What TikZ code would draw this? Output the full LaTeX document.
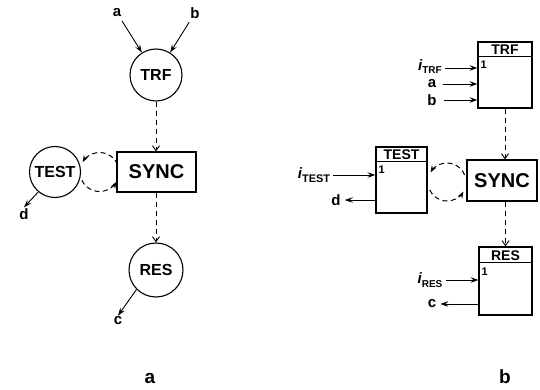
\documentclass[tikz,border=0pt]{standalone}
\usepackage{fontspec}
\setmainfont{Liberation Sans}
\usetikzlibrary{arrows.meta}
\newcommand\myfs[1]{\fontsize{#1}{#1}\selectfont\bfseries}
\begin{document}
\begin{tikzpicture}[x=1pt,y=1pt,
  circ/.style={draw, circle, line width=1.1pt, inner sep=0pt, font=\myfs{16}},
  syncbox/.style={draw, rectangle, line width=1.1pt, inner sep=0pt, font=\myfs{20}},
  procbox/.style={draw, rectangle, line width=1.2pt, inner sep=0pt},
  hdr/.style={inner sep=0pt, font=\myfs{14}},
  onelbl/.style={inner sep=0pt, anchor=north west, font=\myfs{11}},
  lbl/.style={inner sep=1pt, font=\myfs{15}},
  ilbl/.style={inner sep=1pt, font=\myfs{15}},
  caplbl/.style={inner sep=0pt, font=\myfs{19}},
  sol/.style={line width=0.9pt, -{Stealth[length=8pt,width=5.5pt,inset=3pt]}},
  dsh/.style={line width=0.9pt, dash pattern=on 5pt off 4pt, -{Straight Barb[length=5pt,width=7pt]}},
  loopline/.style={line width=1pt, dash pattern=on 5pt off 3.5pt, -{Stealth[length=7pt,width=5pt,inset=2.5pt]}},
]
\useasboundingbox (0,0) rectangle (540,-390);

% ---------------- left diagram (a) ----------------
\node[lbl] (la) at (117,-13) {a};
\node[lbl] (lb) at (195,-13) {b};
\node[circ, minimum size=52pt] (ltrf) at (156,-75) {TRF};
\node[syncbox, minimum width=79pt, minimum height=40pt] (lsync) at (156.5,-172) {SYNC};
\node[circ, minimum size=51pt] (ltest) at (55,-172) {TEST};
\node[circ, minimum size=54pt] (lres) at (156,-270) {RES};
\node[lbl] (ld) at (24,-214) {d};
\node[lbl] (lc) at (118,-321) {c};
\node[caplbl] (capa) at (150,-378) {a};

\draw[sol, shorten <=3pt] (la) -- (ltrf);
\draw[sol, shorten <=3pt] (lb) -- (ltrf);
\draw[dsh] (ltrf.south) -- (ltrf.south |- lsync.north);
\draw[dsh] (lres.north |- lsync.south) -- (lres.north);
\draw[sol] (ltest.230) -- (ld.north);
\draw[sol] (lres.225) -- (lc.north);

\coordinate (lloop) at (99.5,-172);
\draw[loopline] ([shift={(22:19.5)}]lloop) arc[start angle=22, end angle=150, radius=19.5];
\draw[loopline] ([shift={(205:19.5)}]lloop) arc[start angle=205, end angle=330, radius=19.5];

% ---------------- right diagram (b) ----------------
% TRF
\node[procbox, minimum width=54pt, minimum height=66pt] (rtrf) at (505,-75) {};
\draw[line width=1.2pt] ([yshift=-15]rtrf.north west) -- ([yshift=-15]rtrf.north east);
\node[hdr] (rtrfh) at ([yshift=-8.5]rtrf.north) {TRF};
\node[onelbl] (rtrf1) at ([xshift=3,yshift=-19]rtrf.north west) {1};
\node[ilbl] (itrf) at (430,-66.5) {{\itshape i}\raisebox{-3pt}{\myfs{10}TRF}};
\node[lbl] (ra) at (432,-84) {a};
\node[lbl] (rb) at (432,-100) {b};
\draw[sol, shorten <=2pt] (itrf.east |- 0,-68) -- (rtrf.west |- 0,-68);
\draw[sol, shorten <=6pt] (ra) -- (ra -| rtrf.west);
\draw[sol, shorten <=6pt] (rb) -- (rb -| rtrf.west);

% SYNC
\node[syncbox, minimum width=70pt, minimum height=41pt] (rsync) at (502,-180.5) {SYNC};
\draw[dsh] (rtrf.south) -- (rtrf.south |- rsync.north);

% TEST
\node[procbox, minimum width=51pt, minimum height=66pt] (rtest) at (401.5,-180) {};
\draw[line width=1.2pt] ([yshift=-15]rtest.north west) -- ([yshift=-15]rtest.north east);
\node[hdr] (rtesth) at ([yshift=-8.5]rtest.north) {TEST};
\node[onelbl] (rtest1) at ([xshift=3,yshift=-19]rtest.north west) {1};
\node[ilbl] (itest) at (314,-175) {{\itshape i}\raisebox{-4pt}{\myfs{11}TEST}};
\node[lbl] (rd) at (336,-200) {d};
\draw[sol, shorten <=2pt] (itest) -- (itest -| rtest.west);
\draw[sol, shorten >=3pt] (rtest.west |- rd) -- (rd);

\coordinate (rloop) at (447,-182);
\draw[loopline] ([shift={(22:19)}]rloop) arc[start angle=22, end angle=150, radius=19];
\draw[loopline] ([shift={(205:19)}]rloop) arc[start angle=205, end angle=330, radius=19];

% RES
\node[procbox, minimum width=53pt, minimum height=68pt] (rres) at (505.5,-281) {};
\draw[line width=1.2pt] ([yshift=-16]rres.north west) -- ([yshift=-16]rres.north east);
\node[hdr] (rresh) at ([yshift=-9]rres.north) {RES};
\node[onelbl] (rres1) at ([xshift=3,yshift=-21]rres.north west) {1};
\node[ilbl] (ires) at (430,-280) {{\itshape i}\raisebox{-4pt}{\myfs{10}RES}};
\node[lbl] (rc) at (432,-304) {c};
\draw[sol, shorten <=2pt] (ires) -- (ires -| rres.west);
\draw[sol, shorten >=3pt] (rres.west |- rc) -- (rc);
\draw[dsh] (rres.north |- rsync.south) -- (rres.north);

\node[caplbl] (capb) at (505,-377) {b};
\end{tikzpicture}
\end{document}
